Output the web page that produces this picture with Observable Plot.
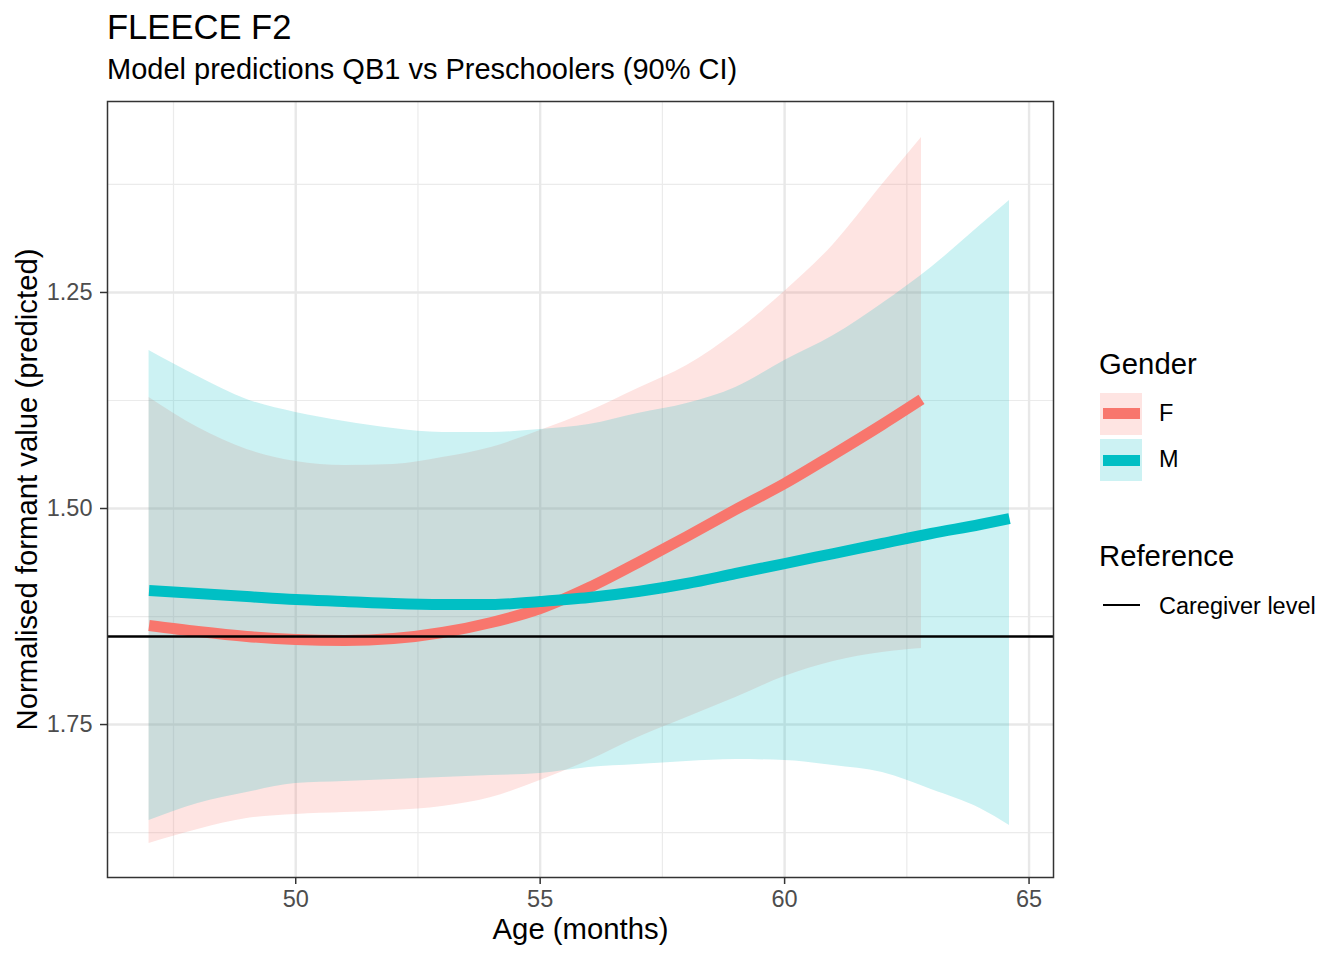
<!DOCTYPE html>
<html><head><meta charset="utf-8">
<script src="https://cdn.jsdelivr.net/npm/d3@7"></script>
<script src="https://cdn.jsdelivr.net/npm/@observablehq/plot@0.6"></script>
<style>
body{margin:0;background:#fff;font-family:"Liberation Sans",Arial,sans-serif;}
#page{position:relative;width:1344px;height:960px;overflow:hidden;background:#fff;}
.t{position:absolute;white-space:nowrap;line-height:1;color:#000;}
#plot{position:absolute;left:0;top:90px;}
.sw{position:absolute;}
</style></head><body><div id="page"><div id="plot"></div></div>
<script>
// ---- data ----
const genders = ["F", "M"];
const colors = ["#F8766D", "#00BFC4"];

const ageF = [47, 48, 49, 50, 51, 52, 53, 54, 55, 56, 57, 58, 59, 60, 61, 62, 62.8];
const fitF = [1.6354, 1.6424, 1.6481, 1.6516, 1.6528, 1.6505, 1.6435, 1.6319, 1.6157, 1.5914, 1.5625, 1.5324, 1.5012, 1.4711, 1.4375, 1.4028, 1.3738];
const loF  = [1.3715, 1.4063, 1.4317, 1.4456, 1.4502, 1.4491, 1.4410, 1.4294, 1.4097, 1.3877, 1.3611, 1.3345, 1.2963, 1.2488, 1.1944, 1.1250, 1.0706];
const hiF  = [1.8877, 1.8715, 1.8588, 1.8542, 1.8519, 1.8495, 1.8449, 1.8345, 1.8148, 1.7917, 1.7650, 1.7419, 1.7188, 1.6944, 1.6771, 1.6667, 1.6620];

const ageM = [47, 48, 49, 50, 51, 52, 53, 54, 55, 56, 57, 58, 59, 60, 61, 62, 63, 64, 64.6];
const fitM = [1.5949, 1.5984, 1.6019, 1.6053, 1.6076, 1.6100, 1.6111, 1.6111, 1.6076, 1.6030, 1.5961, 1.5868, 1.5752, 1.5637, 1.5521, 1.5405, 1.5289, 1.5185, 1.5116];
const loM  = [1.3171, 1.3472, 1.3738, 1.3889, 1.3993, 1.4074, 1.4120, 1.4120, 1.4086, 1.4028, 1.3900, 1.3785, 1.3600, 1.3287, 1.2998, 1.2627, 1.2211, 1.1725, 1.1435];
const hiM  = [1.8611, 1.8414, 1.8287, 1.8183, 1.8160, 1.8137, 1.8113, 1.8090, 1.8067, 1.7998, 1.7963, 1.7928, 1.7905, 1.7917, 1.7975, 1.8056, 1.8252, 1.8472, 1.8669];

const caregiverLevel = [1.6481];

const xTicks = [50, 55, 60, 65];
const xMinor = [47.5, 52.5, 57.5, 62.5];
const yTicks = [1.25, 1.50, 1.75];
const yMinor = [1.125, 1.375, 1.625, 1.875];

const titleText = "FLEECE F2";
const subtitleText = "Model predictions QB1 vs Preschoolers (90% CI)";
const xLabel = "Age (months)";
const yLabel = "Normalised formant value (predicted)";
const legendTitle1 = "Gender";
const legendTitle2 = "Reference";
const refLabel = "Caregiver level";

// ---- table ----
const series = {F: [ageF, fitF, loF, hiF], M: [ageM, fitM, loM, hiM]};
const rows = [];
for (const g of genders) {
  const [a, f, lo, hi] = series[g];
  a.forEach((age, j) => rows.push({gender: g, age, fit: f[j], lo: lo[j], hi: hi[j]}));
}

const FONT = '"Liberation Sans", Arial, sans-serif';

const chart = Plot.plot({
  width: 1060, height: 870,
  marginLeft: 107, marginRight: 7, marginTop: 11, marginBottom: 83,
  style: {fontFamily: FONT, background: "transparent", overflow: "visible", color: "#000"},
  x: {domain: [46.15, 65.5]},
  y: {domain: [1.029, 1.927], reverse: true},
  color: {domain: genders, range: colors},
  marks: [
    Plot.ruleX(xMinor, {stroke: "#EBEBEB", strokeWidth: 1.2}),
    Plot.ruleY(yMinor, {stroke: "#EBEBEB", strokeWidth: 1.2}),
    Plot.ruleX(xTicks, {stroke: "#E8E8E8", strokeWidth: 2.4}),
    Plot.ruleY(yTicks, {stroke: "#E8E8E8", strokeWidth: 2.4}),
    Plot.areaY(rows, {x: "age", y1: "lo", y2: "hi", z: "gender", fill: "gender", fillOpacity: 0.2, curve: "monotone-x"}),
    Plot.line(rows, {x: "age", y: "fit", z: "gender", stroke: "gender", strokeWidth: 11, strokeLinecap: "butt", curve: "monotone-x"}),
    Plot.ruleY(caregiverLevel, {stroke: "#000", strokeWidth: 2.7}),
    Plot.frame({stroke: "#333333", strokeWidth: 1.5}),
    Plot.axisX(xTicks, {tickSize: 7, tickPadding: 6, fontSize: 23.5, stroke: "#333333", fill: "#4D4D4D", strokeWidth: 1.5, label: null, tickFormat: d3.format("d")}),
    Plot.axisY(yTicks, {tickSize: 7, tickPadding: 8, fontSize: 23.5, stroke: "#333333", fill: "#4D4D4D", strokeWidth: 1.5, label: null, tickFormat: d3.format(".2f")}),
    Plot.text([xLabel], {frameAnchor: "bottom", dy: 52, lineAnchor: "middle", textAnchor: "middle", fontSize: 29.3, fill: "#000", text: d => d}),
    Plot.text([yLabel], {frameAnchor: "left", dx: -80, rotate: -90, lineAnchor: "middle", textAnchor: "middle", fontSize: 29.3, fill: "#000", text: d => d})
  ]
});
document.getElementById("plot").appendChild(chart);

// ---- titles and legend (HTML) ----
const page = document.getElementById("page");
function addText(txt, left, baseline, size) {
  const d = document.createElement("div");
  d.className = "t";
  d.textContent = txt;
  d.style.left = left + "px";
  d.style.top = (baseline - 0.8465 * size) + "px";
  d.style.fontSize = size + "px";
  page.appendChild(d);
}
function addBox(left, top, w, h, bg) {
  const d = document.createElement("div");
  d.className = "sw";
  Object.assign(d.style, {left: left + "px", top: top + "px", width: w + "px", height: h + "px", background: bg});
  page.appendChild(d);
}
addText(titleText, 107, 39, 34.6);
addText(subtitleText, 107, 80, 29);

addText(legendTitle1, 1099, 374, 29.3);
genders.forEach((g, i) => {
  const top = 393 + i * 46.3;
  const c = d3.color(colors[i]); c.opacity = 0.2;
  addBox(1100, top, 41.5, 41.5, c.formatRgb());
  addBox(1103, top + 15.3, 36.5, 11, colors[i]);
  addText(g, 1159, top + 28.5, 23.5);
});
addText(legendTitle2, 1099, 565.5, 29.3);
addBox(1103, 603.7, 36.5, 2.7, "#000");
addText(refLabel, 1159, 614.5, 23.5);
</script></body></html>
